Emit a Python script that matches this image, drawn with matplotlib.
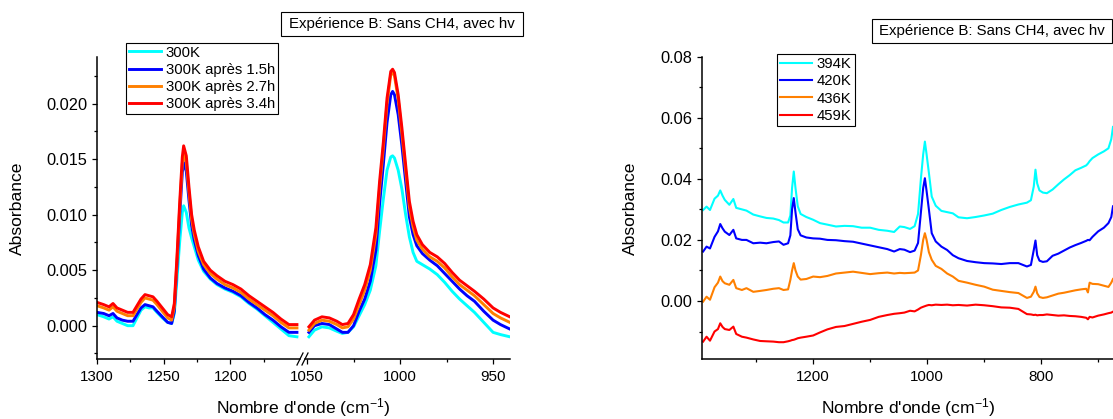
import matplotlib
matplotlib.use("Agg")
import matplotlib.pyplot as plt
from matplotlib.ticker import MultipleLocator, FixedLocator, FormatStrFormatter
from matplotlib.patches import Rectangle

plt.rcParams["font.family"] = ["Liberation Sans", "DejaVu Sans"]
plt.rcParams["mathtext.default"] = "regular"

# ---- left panel: 300 K spectra, broken wavenumber axis ----
wn_left1 = [1300, 1295, 1291, 1288, 1285, 1281, 1277, 1273, 1270, 1267, 1264, 1261, 1258, 1255,
            1251, 1247, 1244, 1242, 1240, 1238, 1236, 1235, 1233, 1231, 1229, 1227, 1224, 1220,
            1215, 1210, 1204, 1198, 1192, 1186, 1180, 1174, 1168, 1162, 1156, 1150]
cyan_left1 = [0.0010, 0.0008, 0.0006, 0.0008, 0.0004, 0.0002, 0.0000, 0.0000, 0.0007, 0.0014,
              0.0017, 0.0016, 0.0016, 0.0012, 0.0007, 0.0003, 0.0002, 0.0011, 0.0042, 0.0075,
              0.0102, 0.0108, 0.0102, 0.0088, 0.0079, 0.0071, 0.0059, 0.0049, 0.0042, 0.0037,
              0.0033, 0.0030, 0.0026, 0.0020, 0.0015, 0.0009, 0.0003, -0.0003, -0.0009, -0.0010]
blue_left1 = [0.0012, 0.0011, 0.0009, 0.0011, 0.0007, 0.0005, 0.0004, 0.0004, 0.0010, 0.0016,
              0.0019, 0.0018, 0.0017, 0.0013, 0.0008, 0.0003, 0.0002, 0.0013, 0.0053, 0.0098,
              0.0138, 0.0147, 0.0139, 0.0113, 0.0090, 0.0077, 0.0063, 0.0051, 0.0043, 0.0038,
              0.0034, 0.0031, 0.0027, 0.0021, 0.0016, 0.0010, 0.0005, -0.0001, -0.0006, -0.0006]
orange_left1 = [0.0018, 0.0016, 0.0014, 0.0017, 0.0013, 0.0011, 0.0009, 0.0009, 0.0015, 0.0021,
                0.0025, 0.0024, 0.0023, 0.0019, 0.0013, 0.0007, 0.0005, 0.0017, 0.0058, 0.0105,
                0.0146, 0.0155, 0.0147, 0.0120, 0.0096, 0.0082, 0.0067, 0.0055, 0.0047, 0.0042,
                0.0037, 0.0034, 0.0030, 0.0024, 0.0019, 0.0014, 0.0009, 0.0003, -0.0002, -0.0002]
red_left1 = [0.0021, 0.0019, 0.0017, 0.0020, 0.0016, 0.0014, 0.0012, 0.0012, 0.0018, 0.0024,
             0.0028, 0.0027, 0.0026, 0.0022, 0.0016, 0.0010, 0.0008, 0.0020, 0.0062, 0.0110,
             0.0152, 0.0162, 0.0153, 0.0125, 0.0100, 0.0086, 0.0071, 0.0058, 0.0050, 0.0045,
             0.0040, 0.0037, 0.0033, 0.0027, 0.0022, 0.0017, 0.0012, 0.0006, 0.0001, 0.0001]

wn_left2 = [1049, 1046, 1042, 1038, 1034, 1031, 1028, 1025, 1022, 1019, 1016, 1013, 1011, 1009,
            1007, 1005, 1004, 1003, 1001, 999, 997, 995, 993, 991, 988, 984, 980, 976, 972, 968,
            964, 960, 955, 950, 946, 941]
cyan_left2 = [-0.0010, -0.0004, -0.0001, -0.0002, -0.0005, -0.0007, -0.0006, -0.0001, 0.0009,
              0.0019, 0.0032, 0.0054, 0.0085, 0.0114, 0.0140, 0.0152, 0.0153, 0.0151, 0.0140,
              0.0123, 0.0100, 0.0080, 0.0066, 0.0058, 0.0055, 0.0051, 0.0046, 0.0039, 0.0031,
              0.0024, 0.0018, 0.0012, 0.0003, -0.0006, -0.0008, -0.0010]
blue_left2 = [-0.0006, 0.0000, 0.0002, 0.0001, -0.0003, -0.0006, -0.0006, 0.0000, 0.0013,
              0.0024, 0.0040, 0.0068, 0.0110, 0.0145, 0.0183, 0.0208, 0.0211, 0.0208, 0.0190,
              0.0162, 0.0130, 0.0098, 0.0082, 0.0072, 0.0065, 0.0059, 0.0054, 0.0047, 0.0040,
              0.0033, 0.0027, 0.0022, 0.0013, 0.0005, 0.0001, -0.0003]
orange_left2 = [-0.0004, 0.0002, 0.0005, 0.0004, 0.0001, -0.0002, -0.0001, 0.0006, 0.0019,
                0.0032, 0.0050, 0.0082, 0.0124, 0.0160, 0.0200, 0.0226, 0.0228, 0.0225, 0.0204,
                0.0173, 0.0140, 0.0107, 0.0089, 0.0077, 0.0069, 0.0062, 0.0058, 0.0052, 0.0044,
                0.0037, 0.0032, 0.0027, 0.0019, 0.0011, 0.0007, 0.0003]
red_left2 = [-0.0001, 0.0005, 0.0008, 0.0007, 0.0004, 0.0001, 0.0002, 0.0010, 0.0024, 0.0037,
             0.0055, 0.0088, 0.0130, 0.0165, 0.0205, 0.0229, 0.0231, 0.0228, 0.0208, 0.0178,
             0.0145, 0.0112, 0.0094, 0.0082, 0.0073, 0.0066, 0.0062, 0.0056, 0.0048, 0.0041,
             0.0036, 0.0031, 0.0024, 0.0016, 0.0012, 0.0008]

labels_left = ["300K", "300K après 1.5h", "300K après 2.7h", "300K après 3.4h"]
ticks_left1 = [1300, 1250, 1200]
minor_left1 = [1275, 1225, 1175]
ticks_left2 = [1050, 1000, 950]
minor_left2 = [1025, 975]

# ---- right panel: heated spectra ----
wn_right = [1393, 1387, 1381, 1373, 1367, 1363, 1359, 1355, 1347, 1340, 1335, 1325, 1317, 1305,
            1293, 1282, 1270, 1260, 1252, 1244, 1240, 1237, 1234, 1231, 1227, 1222, 1212, 1200,
            1188, 1175, 1160, 1145, 1130, 1115, 1100, 1085, 1070, 1058, 1048, 1040, 1030, 1022,
            1016, 1011, 1007, 1004, 1001, 997, 992, 985, 975, 965, 955, 945, 930, 915, 900, 885,
            870, 855, 840, 825, 818, 813, 810, 807, 803, 797, 790, 780, 770, 760, 750, 740, 730,
            721, 718, 715, 710, 700, 690, 682, 677, 674]
k394 = [0.0298, 0.0309, 0.0298, 0.0335, 0.0345, 0.0362, 0.0345, 0.0331, 0.0315, 0.0334, 0.0305,
        0.0300, 0.0296, 0.0283, 0.0277, 0.0272, 0.0270, 0.0265, 0.0257, 0.0257, 0.0280, 0.0370,
        0.0424, 0.0370, 0.0310, 0.0285, 0.0275, 0.0266, 0.0255, 0.0250, 0.0244, 0.0246, 0.0245,
        0.0240, 0.0240, 0.0233, 0.0230, 0.0226, 0.0244, 0.0242, 0.0236, 0.0245, 0.0285, 0.0400,
        0.0480, 0.0522, 0.0480, 0.0420, 0.0342, 0.0312, 0.0295, 0.0291, 0.0287, 0.0274, 0.0271,
        0.0275, 0.0280, 0.0286, 0.0298, 0.0308, 0.0316, 0.0322, 0.0330, 0.0375, 0.0430, 0.0385,
        0.0362, 0.0355, 0.0353, 0.0365, 0.0382, 0.0398, 0.0412, 0.0428, 0.0436, 0.0444, 0.0450,
        0.0458, 0.0468, 0.0480, 0.0490, 0.0500, 0.0530, 0.0570]
k420 = [0.0162, 0.0178, 0.0172, 0.0210, 0.0228, 0.0252, 0.0238, 0.0227, 0.0216, 0.0233, 0.0205,
        0.0200, 0.0200, 0.0189, 0.0191, 0.0189, 0.0193, 0.0195, 0.0184, 0.0189, 0.0215, 0.0300,
        0.0337, 0.0290, 0.0235, 0.0215, 0.0208, 0.0205, 0.0204, 0.0200, 0.0199, 0.0196, 0.0194,
        0.0188, 0.0182, 0.0176, 0.0170, 0.0162, 0.0170, 0.0168, 0.0160, 0.0165, 0.0190, 0.0290,
        0.0370, 0.0402, 0.0360, 0.0300, 0.0222, 0.0195, 0.0178, 0.0167, 0.0150, 0.0140, 0.0131,
        0.0127, 0.0124, 0.0123, 0.0121, 0.0124, 0.0124, 0.0113, 0.0118, 0.0167, 0.0198, 0.0150,
        0.0132, 0.0128, 0.0130, 0.0148, 0.0155, 0.0165, 0.0175, 0.0183, 0.0190, 0.0197, 0.0200,
        0.0199, 0.0210, 0.0228, 0.0240, 0.0255, 0.0275, 0.0310]
k436 = [-0.0002, 0.0014, 0.0004, 0.0045, 0.0060, 0.0080, 0.0065, 0.0058, 0.0053, 0.0069, 0.0042,
        0.0036, 0.0042, 0.0030, 0.0033, 0.0036, 0.0040, 0.0042, 0.0036, 0.0038, 0.0069, 0.0100,
        0.0124, 0.0100, 0.0080, 0.0070, 0.0072, 0.0080, 0.0078, 0.0082, 0.0090, 0.0093, 0.0096,
        0.0092, 0.0088, 0.0091, 0.0093, 0.0090, 0.0092, 0.0091, 0.0092, 0.0093, 0.0100, 0.0150,
        0.0200, 0.0222, 0.0200, 0.0160, 0.0135, 0.0115, 0.0105, 0.0090, 0.0080, 0.0066, 0.0060,
        0.0053, 0.0047, 0.0037, 0.0033, 0.0029, 0.0026, 0.0010, 0.0014, 0.0030, 0.0047, 0.0025,
        0.0013, 0.0010, 0.0012, 0.0018, 0.0024, 0.0027, 0.0031, 0.0035, 0.0038, 0.0040, 0.0028,
        0.0060, 0.0056, 0.0055, 0.0050, 0.0046, 0.0060, 0.0072]
k459 = [-0.0133, -0.0117, -0.0130, -0.0100, -0.0092, -0.0073, -0.0085, -0.0092, -0.0095, -0.0084,
        -0.0108, -0.0117, -0.0120, -0.0126, -0.0131, -0.0132, -0.0133, -0.0135, -0.0135, -0.0132,
        -0.0130, -0.0128, -0.0127, -0.0125, -0.0122, -0.0120, -0.0117, -0.0113, -0.0103, -0.0093,
        -0.0085, -0.0082, -0.0075, -0.0068, -0.0062, -0.0052, -0.0046, -0.0042, -0.0040, -0.0038,
        -0.0032, -0.0034, -0.0028, -0.0022, -0.0019, -0.0017, -0.0015, -0.0013, -0.0014, -0.0012,
        -0.0013, -0.0012, -0.0014, -0.0013, -0.0015, -0.0012, -0.0014, -0.0017, -0.0021, -0.0022,
        -0.0026, -0.0043, -0.0044, -0.0046, -0.0045, -0.0047, -0.0046, -0.0046, -0.0044, -0.0046,
        -0.0048, -0.0047, -0.0049, -0.0050, -0.0052, -0.0055, -0.0060, -0.0052, -0.0054, -0.0048,
        -0.0044, -0.0040, -0.0038, -0.0035]
labels_right = ["394K", "420K", "436K", "459K"]

colors = ["#00FFFF", "#0000FF", "#FF8000", "#FF0000"]
box_text = "Expérience B: Sans CH4, avec hv"
xlabel = "Nombre d'onde (cm$^{-1}$)"

W, H = 1113, 419
fig = plt.figure(figsize=(W / 100, H / 100), dpi=100)


def px_axes(x0, x1, y0, y1):
    return fig.add_axes([x0 / W, 1 - y1 / H, (x1 - x0) / W, (y1 - y0) / H])


def style(ax, left=True):
    ax.spines["top"].set_visible(False)
    ax.spines["right"].set_visible(False)
    ax.spines["left"].set_visible(left)
    for s in ax.spines.values():
        s.set_linewidth(1.1)
    ax.tick_params(which="both", direction="out", width=0.9, color="black")
    ax.tick_params(which="major", length=3.8)
    ax.tick_params(which="minor", length=2.2)
    ax.tick_params(axis="x", labelsize=10.9, pad=4)
    ax.tick_params(axis="y", labelsize=11.8, pad=3)
    ax.set_facecolor("none")


legend_kw = dict(loc="upper left", bbox_transform=fig.transFigure, fontsize=10.7, frameon=True,
                 fancybox=False, edgecolor="black", framealpha=1, borderpad=0.2,
                 labelspacing=0.22, handletextpad=0.3, borderaxespad=0)

# left panel as two pieces
ax_a = px_axes(97, 300, 57, 359)
ax_b = px_axes(305, 510, 57, 359)
left_sets = [(cyan_left1, cyan_left2), (blue_left1, blue_left2),
             (orange_left1, orange_left2), (red_left1, red_left2)]
lines = []
for (s1, s2), c, lab in zip(left_sets, colors, labels_left):
    ln, = ax_a.plot(wn_left1, s1, color=c, lw=2.1, label=lab)
    ax_b.plot(wn_left2, s2, color=c, lw=2.1)
    lines.append(ln)

ax_a.set_xlim(1300, 1147.7)
ax_b.set_xlim(1051.1, 940.9)
ax_a.xaxis.set_major_locator(FixedLocator(ticks_left1))
ax_a.xaxis.set_minor_locator(FixedLocator(minor_left1))
ax_b.xaxis.set_major_locator(FixedLocator(ticks_left2))
ax_b.xaxis.set_minor_locator(FixedLocator(minor_left2))
for ax in (ax_a, ax_b):
    ax.set_ylim(-0.003, 0.0242)
ax_a.yaxis.set_major_locator(MultipleLocator(0.005))
ax_a.yaxis.set_minor_locator(MultipleLocator(0.0025))
ax_a.yaxis.set_major_formatter(FormatStrFormatter("%.3f"))
style(ax_a)
style(ax_b, left=False)
ax_b.tick_params(axis="y", which="both", left=False, labelleft=False)
ax_a.set_ylabel("Absorbance", fontsize=12.6)
ax_a.yaxis.set_label_coords(-0.355, 0.5)

# break marks
for ax, xb in ((ax_a, 1.0), (ax_b, 0.0)):
    w_ax = ax.get_position().width * W
    h_ax = ax.get_position().height * H
    dx, dy = 3 / w_ax, 6 / h_ax
    ax.plot([xb - dx, xb + dx], [-dy, dy], color="black", lw=0.9,
            transform=ax.transAxes, clip_on=False)

leg_a = ax_a.legend(handles=lines, bbox_to_anchor=(125.7 / W, 1 - 42.7 / H),
                    handlelength=2.2, **legend_kw)
leg_a.get_frame().set_linewidth(0.8)

fig.text(303.5 / W, 1 - 413.3 / H, xlabel, ha="center", va="baseline", fontsize=12.6)

# right panel
ax_r = px_axes(702, 1113, 56.7, 359)
right_sets = [k394, k420, k436, k459]
for s, c, lab in zip(right_sets, colors, labels_right):
    ax_r.plot(wn_right, s, color=c, lw=1.5, label=lab)
ax_r.set_xlim(1395, 674)
ax_r.set_ylim(-0.019, 0.08)
ax_r.xaxis.set_major_locator(MultipleLocator(200))
ax_r.xaxis.set_minor_locator(MultipleLocator(100))
ax_r.yaxis.set_major_locator(MultipleLocator(0.02))
ax_r.yaxis.set_minor_locator(MultipleLocator(0.01))
ax_r.yaxis.set_major_formatter(FormatStrFormatter("%.2f"))
style(ax_r)
ax_r.set_ylabel("Absorbance", fontsize=12.6)
ax_r.yaxis.set_label_coords(-0.156, 0.5)
leg_r = ax_r.legend(bbox_to_anchor=(777.3 / W, 1 - 54 / H), handlelength=2.15, **legend_kw)
leg_r.get_frame().set_linewidth(0.8)
fig.text(908 / W, 1 - 413.3 / H, xlabel, ha="center", va="baseline", fontsize=12.6)

# title boxes
for (x0, x1, y0, y1) in ((281, 523, 12.3, 36), (872, 1112.3, 19.3, 43.3)):
    fig.patches.append(Rectangle((x0 / W, 1 - y1 / H), (x1 - x0) / W, (y1 - y0) / H,
                                 transform=fig.transFigure, fill=False, edgecolor="black",
                                 lw=0.8))
    fig.text((x0 + x1) / 2 / W, 1 - (y0 + y1) / 2 / H, box_text, ha="center", va="center",
             fontsize=10.8)

fig.savefig("out.png", dpi=100)
